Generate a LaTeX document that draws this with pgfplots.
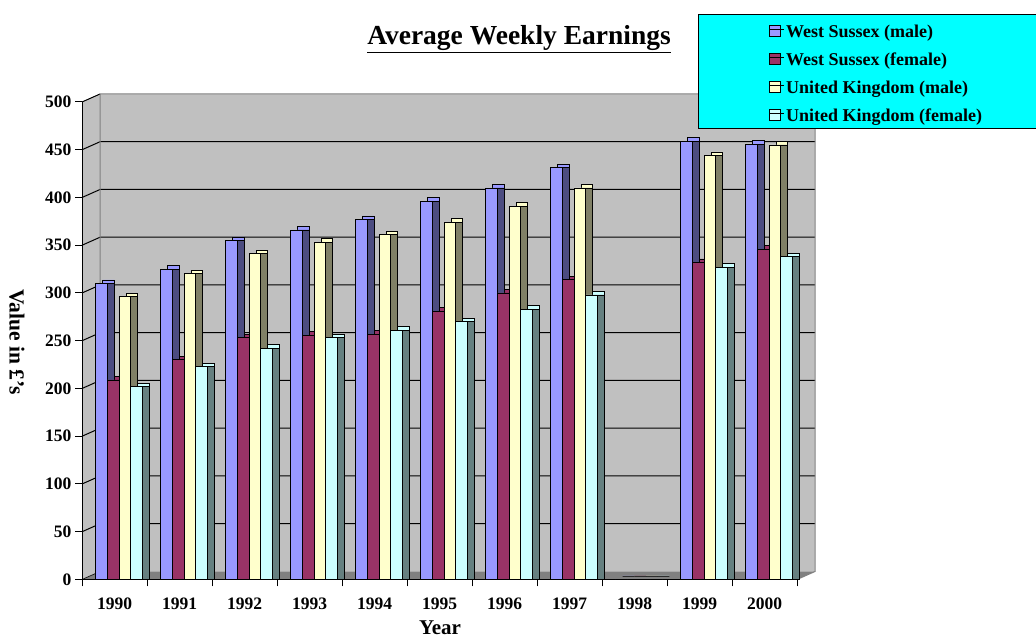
\documentclass[border=0pt]{standalone}
\usepackage{fontspec}
\setmainfont{Liberation Serif}
\usepackage{pgfplots}
\usepackage{pgfplotstable}
\pgfplotsset{compat=1.18}
\definecolor{wsm}{HTML}{9999FF}
\definecolor{wsmd}{HTML}{4C4C80}
\definecolor{wsf}{HTML}{993366}
\definecolor{wsfd}{HTML}{4C1933}
\definecolor{ukm}{HTML}{FFFFCC}
\definecolor{ukmd}{HTML}{808066}
\definecolor{ukf}{HTML}{CCFFFF}
\definecolor{ukfd}{HTML}{668080}
\definecolor{wall}{HTML}{C0C0C0}
\definecolor{floorc}{HTML}{808080}
\definecolor{legcyan}{HTML}{00FFFF}

\pgfplotstableread{
x wsm wsf ukm ukf
0 310 209 296 202
1 325 230 320 223
2 355 253 341 242
3 366 256 353 253
4 377 257 361 261
5 396 281 374 270
6 410 300 391 283
7 431 314 410 298
8 0 0 0 0
9 459 332 444 327
10 456 346 455 338
}\data

\pgfplotsset{
  barbase/.style={ybar, bar width=11.7pt, draw=black, line width=0.8pt},
  topface/.style={barbase, xshift=7pt, yshift=3.5pt, forget plot},
  sideface/.style={barbase, xshift=7pt, forget plot},
}

\begin{document}
\begin{tikzpicture}
\begin{axis}[
  at={(82pt,59.5pt)}, anchor=south west,
  scale only axis, width=715pt, height=477.5pt,
  xmin=-0.5, xmax=10.5, ymin=0, ymax=500,
  clip=false, set layers,
  axis lines*=left,
  axis line style={black, line width=1pt},
  tick align=outside, major tick length=7pt,
  tick style={black, line width=1pt},
  xtick={-0.5,0.5,1.5,2.5,3.5,4.5,5.5,6.5,7.5,8.5,9.5,10.5},
  xticklabels={1990,1991,1992,1993,1994,1995,1996,1997,1998,1999,2000,{}},
  xticklabel style={xshift=32.5pt, yshift=-8pt},
  ytick={0,50,...,500},
  ticklabel style={font=\bfseries\fontsize{17.5}{20}\selectfont},
  /pgf/number format/assume math mode=true,
  legend style={at={(axis description cs:0.8615,1.1843)}, anchor=north west,
    fill=legcyan, draw=black, line width=0.8pt,
    font=\bfseries\fontsize{18}{21}\selectfont,
    inner xsep=71pt, inner ysep=1pt, row sep=0pt,
    nodes={inner xsep=2pt, inner ysep=2pt, text height=20pt, text depth=4pt}},
  legend cell align=left,
  legend image code/.code={\draw[#1,/tikz/.cd,line width=0.8pt] (0pt,-7pt) rectangle (11pt,4pt); \path (0pt,0pt) -- (14pt,0pt);},
]
\begin{pgfonlayer}{axis background}
  \fill[wall] (axis cs:-0.5,0) -- ([xshift=18pt,yshift=8pt]axis cs:-0.5,0) -- ([xshift=18pt,yshift=8pt]axis cs:-0.5,500) -- (axis cs:-0.5,500) -- cycle;
  \fill[wall] ([xshift=18pt,yshift=8pt]axis cs:-0.5,0) rectangle ([xshift=18pt,yshift=8pt]axis cs:10.5,500);
  \fill[floorc] (axis cs:-0.5,0) -- (axis cs:10.5,0) -- ([xshift=18pt,yshift=8pt]axis cs:10.5,0) -- ([xshift=18pt,yshift=8pt]axis cs:-0.5,0) -- cycle;
  \pgfplotsinvokeforeach{50,100,150,200,250,300,350,400,450}{
    \draw[black, line width=1pt] (axis cs:-0.5,#1) -- ([xshift=18pt,yshift=8pt]axis cs:-0.5,#1) -- ([xshift=18pt,yshift=8pt]axis cs:10.5,#1);
  }
  \draw[black, line width=1pt] (axis cs:-0.5,500) -- ([xshift=18pt,yshift=8pt]axis cs:-0.5,500);
  \draw[floorc, line width=1pt] ([xshift=18pt,yshift=8pt]axis cs:-0.5,0) -- ([xshift=18pt,yshift=8pt]axis cs:-0.5,500) -- ([xshift=18pt,yshift=8pt]axis cs:10.5,500) -- ([xshift=18pt,yshift=8pt]axis cs:10.5,0) -- (axis cs:10.5,0);
  \draw[black, line width=0.6pt] (axis cs:-0.5,0) -- ([xshift=18pt,yshift=8pt]axis cs:-0.5,0);
\end{pgfonlayer}

% top faces
\addplot[topface, bar shift=-13pt, fill=wsm] table[x=x,y=wsm]{\data};
\addplot[topface, bar shift=-1.3pt, fill=wsf] table[x=x,y=wsf]{\data};
\addplot[topface, bar shift=10.4pt, fill=ukm] table[x=x,y=ukm]{\data};
\addplot[topface, bar shift=22.1pt, fill=ukf] table[x=x,y=ukf]{\data};
% side faces
\addplot[sideface, bar shift=-13pt, fill=wsmd] table[x=x,y=wsm]{\data};
\addplot[sideface, bar shift=-1.3pt, fill=wsfd] table[x=x,y=wsf]{\data};
\addplot[sideface, bar shift=10.4pt, fill=ukmd] table[x=x,y=ukm]{\data};
\addplot[sideface, bar shift=22.1pt, fill=ukfd] table[x=x,y=ukf]{\data};

% front faces
\addplot[barbase, bar shift=-13pt, fill=wsm] table[x=x,y=wsm]{\data};
\addlegendentry{West Sussex (male)}
\addplot[barbase, bar shift=-1.3pt, fill=wsf] table[x=x,y=wsf]{\data};
\addlegendentry{West Sussex (female)}
\addplot[barbase, bar shift=10.4pt, fill=ukm] table[x=x,y=ukm]{\data};
\addlegendentry{United Kingdom (male)}
\addplot[barbase, bar shift=22.1pt, fill=ukf] table[x=x,y=ukf]{\data};
\addlegendentry{United Kingdom (female)}
\end{axis}

\node[font=\bfseries\fontsize{27.5}{30}\selectfont, inner sep=0pt, anchor=base] (ttl) at (519pt,594pt) {Average Weekly Earnings};
\draw[line width=1.8pt] ([yshift=-7.5pt]ttl.base west) -- ([yshift=-7.5pt]ttl.base east);
\node[font=\bfseries\fontsize{21}{25}\selectfont, inner sep=0pt, anchor=base] at (440pt,4.5pt) {Year};
\node[font=\bfseries\fontsize{21.5}{26}\selectfont, inner sep=0pt, rotate=-90] at (17pt,297pt) {Value in £'s};

\pgfresetboundingbox
\path (0pt,0pt) rectangle (1036pt,639pt);
\end{tikzpicture}
\end{document}
